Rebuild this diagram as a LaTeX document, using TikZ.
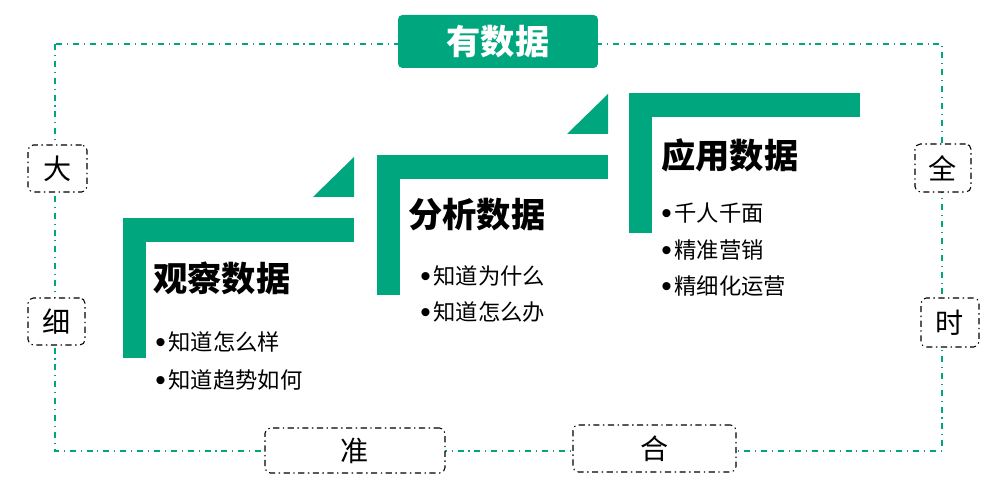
\documentclass[tikz,border=0pt]{standalone}
\usepackage{fontspec}
\setmainfont{Noto Sans CJK SC}
\newfontfamily\dotfont{Liberation Sans}
\usetikzlibrary{calc}
\definecolor{datagreen}{RGB}{0,166,126}
\newcommand{\itemdot}{\raisebox{-1pt}{\dotfont\fontsize{17}{15}\selectfont •}\kern1.5pt}

\tikzset{
  frameline/.style={datagreen, line width=0.8pt, dash pattern=on 3.4pt off 2.8pt on 0.6pt off 2.8pt},
  sidebox/.style={draw=black, fill=white, line width=0.6pt, rounded corners=3pt,
    dash pattern=on 3.5pt off 2pt on 0.8pt off 2pt, inner sep=0pt,
    font=\fontsize{16}{18}\selectfont},
  titlebox/.style={fill=datagreen, rounded corners=2.5pt, inner sep=0pt, text=white,
    font=\fontsize{19.5}{22}\selectfont\bfseries},
  heading/.style={anchor=west, inner sep=0pt, font=\fontsize{19.5}{22}\selectfont\bfseries},
  item/.style={anchor=west, inner sep=0pt, font=\fontsize{12.7}{15}\selectfont}
}

\begin{document}
\begin{tikzpicture}[x=0.02cm, y=-0.02cm]

\useasboundingbox (0,0) rectangle (992,499);

% frame
\draw[frameline] (55,44) rectangle (942,451);

% steps
\foreach \x/\y in {123/218, 377/155, 629/93}
{
    \fill[datagreen] (\x,\y) rectangle ++(231,24);
    \fill[datagreen] (\x,\y) rectangle ++(23,140);
}
\foreach \x/\y in {123/218, 377/155}
{
    \fill[datagreen] (\x+190,\y-21) -- (\x+231,\y-21) -- (\x+231,\y-61) -- cycle;
}

% title
\node[titlebox, minimum width=4cm, minimum height=1.06cm] (title) at (498,41.5) {有数据};

% side boxes
\node[sidebox, minimum width=1.18cm, minimum height=0.94cm] (big) at (57.5,168.5) {大};
\node[sidebox, minimum width=1.14cm, minimum height=0.94cm] (fine) at (56.5,321.5) {细};
\node[sidebox, minimum width=1.12cm, minimum height=0.96cm] (full) at (943,168) {全};
\node[sidebox, minimum width=1.16cm, minimum height=0.98cm] (timely) at (950,322.5) {时};
\node[sidebox, minimum width=3.6cm, minimum height=0.9cm] (exact) at (355,450.5) {准};
\node[sidebox, minimum width=3.26cm, minimum height=0.94cm] (fit) at (654.5,448.5) {合};

% observe
\node[heading] (observe) at (153,278) {观察数据};
\node[item] (observe1) at (155,342) {\itemdot 知道怎么样};
\node[item] (observe2) at (155,380) {\itemdot 知道趋势如何};

% analyse
\node[heading] (analyse) at (408,215) {分析数据};
\node[item] (analyse1) at (420,276) {\itemdot 知道为什么};
\node[item] (analyse2) at (420,312) {\itemdot 知道怎么办};

% apply
\node[heading] (apply) at (661,155) {应用数据};
\node[item] (apply1) at (661,213) {\itemdot 千人千面};
\node[item] (apply2) at (661,250) {\itemdot 精准营销};
\node[item] (apply3) at (661,286) {\itemdot 精细化运营};

\end{tikzpicture}
\end{document}
